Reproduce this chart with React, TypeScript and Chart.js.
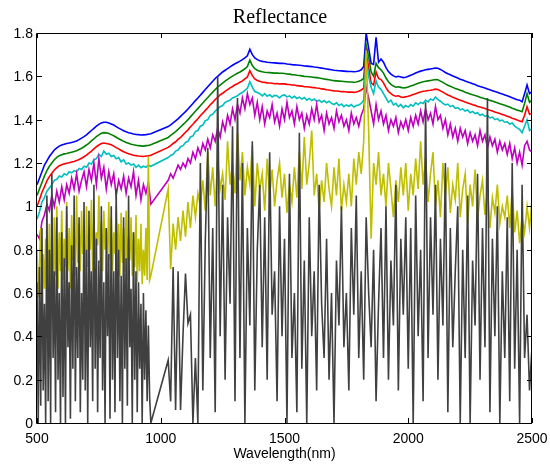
import { useEffect, useRef } from "react";
import { Chart, registerables } from "chart.js";

Chart.register(...registerables);

const TITLE = "Reflectance";
const X_LABEL = "Wavelength(nm)";
const X_TICKS = [500, 1000, 1500, 2000, 2500];
const Y_TICKS = [0, 0.2, 0.4, 0.6, 0.8, 1, 1.2, 1.4, 1.6, 1.8];
const X_MIN = 500;
const X_MAX = 2500;
const Y_MIN = 0;
const Y_MAX = 1.8;

// 10 nm sampling, with the 970-1020 nm band missing
const WAVELENGTH = [
  500, 510, 520, 530, 540, 550, 560, 570, 580, 590,
  600, 610, 620, 630, 640, 650, 660, 670, 680, 690,
  700, 710, 720, 730, 740, 750, 760, 770, 780, 790,
  800, 810, 820, 830, 840, 850, 860, 870, 880, 890,
  900, 910, 920, 930, 940, 950, 960,
  1030, 1040, 1050, 1060, 1070, 1080, 1090,
  1100, 1110, 1120, 1130, 1140, 1150, 1160, 1170, 1180, 1190,
  1200, 1210, 1220, 1230, 1240, 1250, 1260, 1270, 1280, 1290,
  1300, 1310, 1320, 1330, 1340, 1350, 1360, 1370, 1380, 1390,
  1400, 1410, 1420, 1430, 1440, 1450, 1460, 1470, 1480, 1490,
  1500, 1510, 1520, 1530, 1540, 1550, 1560, 1570, 1580, 1590,
  1600, 1610, 1620, 1630, 1640, 1650, 1660, 1670, 1680, 1690,
  1700, 1710, 1720, 1730, 1740, 1750, 1760, 1770, 1780, 1790,
  1800, 1810, 1820, 1830, 1840, 1850, 1860, 1870, 1880, 1890,
  1900, 1910, 1920, 1930, 1940, 1950, 1960, 1970, 1980, 1990,
  2000, 2010, 2020, 2030, 2040, 2050, 2060, 2070, 2080, 2090,
  2100, 2110, 2120, 2130, 2140, 2150, 2160, 2170, 2180, 2190,
  2200, 2210, 2220, 2230, 2240, 2250, 2260, 2270, 2280, 2290,
  2300, 2310, 2320, 2330, 2340, 2350, 2360, 2370, 2380, 2390,
  2400, 2410, 2420, 2430, 2440, 2450, 2460, 2470, 2480, 2490,
  2500,
];

// 5 nm sampling of the visible part (for the two noisiest spectra)
const WAVELENGTH_FINE_VIS = [
  500, 505, 510, 515, 520, 525, 530, 535, 540, 545,
  550, 555, 560, 565, 570, 575, 580, 585, 590, 595,
  600, 605, 610, 615, 620, 625, 630, 635, 640, 645,
  650, 655, 660, 665, 670, 675, 680, 685, 690, 695,
  700, 705, 710, 715, 720, 725, 730, 735, 740, 745,
  750, 755, 760, 765, 770, 775, 780, 785, 790, 795,
  800, 805, 810, 815, 820, 825, 830, 835, 840, 845,
  850, 855, 860, 865, 870, 875, 880, 885, 890, 895,
  900, 905, 910, 915, 920, 925, 930, 935, 940, 945,
  950, 955, 960,
];

const WAVELENGTH_NIR = [
  1030, 1040, 1050, 1060, 1070, 1080, 1090,
  1100, 1110, 1120, 1130, 1140, 1150, 1160, 1170, 1180, 1190,
  1200, 1210, 1220, 1230, 1240, 1250, 1260, 1270, 1280, 1290,
  1300, 1310, 1320, 1330, 1340, 1350, 1360, 1370, 1380, 1390,
  1400, 1410, 1420, 1430, 1440, 1450, 1460, 1470, 1480, 1490,
  1500, 1510, 1520, 1530, 1540, 1550, 1560, 1570, 1580, 1590,
  1600, 1610, 1620, 1630, 1640, 1650, 1660, 1670, 1680, 1690,
  1700, 1710, 1720, 1730, 1740, 1750, 1760, 1770, 1780, 1790,
  1800, 1810, 1820, 1830, 1840, 1850, 1860, 1870, 1880, 1890,
  1900, 1910, 1920, 1930, 1940, 1950, 1960, 1970, 1980, 1990,
  2000, 2010, 2020, 2030, 2040, 2050, 2060, 2070, 2080, 2090,
  2100, 2110, 2120, 2130, 2140, 2150, 2160, 2170, 2180, 2190,
  2200, 2210, 2220, 2230, 2240, 2250, 2260, 2270, 2280, 2290,
  2300, 2310, 2320, 2330, 2340, 2350, 2360, 2370, 2380, 2390,
  2400, 2410, 2420, 2430, 2440, 2450, 2460, 2470, 2480, 2490,
  2500,
];

const BLUE = [
  1.10, 1.13, 1.16, 1.19, 1.21, 1.23, 1.245, 1.26, 1.27, 1.278,
  1.283, 1.287, 1.29, 1.292, 1.295, 1.298, 1.302, 1.308, 1.315, 1.322,
  1.33, 1.34, 1.35, 1.36, 1.37, 1.378, 1.385, 1.388, 1.388, 1.385,
  1.38, 1.375, 1.368, 1.361, 1.355, 1.349, 1.344, 1.34, 1.337, 1.334,
  1.332, 1.331, 1.329, 1.33, 1.331, 1.333, 1.335,
  1.368, 1.376, 1.385, 1.394, 1.404, 1.415, 1.426,
  1.437, 1.449, 1.462, 1.475, 1.488, 1.50, 1.513, 1.526, 1.539, 1.552,
  1.565, 1.577, 1.59, 1.60, 1.61, 1.62, 1.628, 1.636, 1.644, 1.651,
  1.658, 1.664, 1.67, 1.677, 1.685, 1.695, 1.725, 1.70, 1.685, 1.677,
  1.672, 1.669, 1.667, 1.665, 1.664, 1.663, 1.662, 1.661, 1.66, 1.66,
  1.659, 1.657, 1.656, 1.654, 1.653, 1.652, 1.651, 1.65, 1.648, 1.647,
  1.646, 1.645, 1.643, 1.642, 1.64, 1.638, 1.636, 1.634, 1.632, 1.63,
  1.628, 1.627, 1.626, 1.625, 1.624, 1.623, 1.622, 1.622, 1.621, 1.622,
  1.625, 1.63, 1.645, 1.80, 1.73, 1.66, 1.655, 1.78, 1.665, 1.68,
  1.665, 1.64, 1.622, 1.61, 1.602, 1.597, 1.60, 1.597, 1.594, 1.596,
  1.60, 1.605, 1.61, 1.615, 1.62, 1.624, 1.627, 1.63, 1.632, 1.634,
  1.636, 1.638, 1.637, 1.632, 1.625, 1.618, 1.612, 1.607, 1.602, 1.597,
  1.592, 1.587, 1.583, 1.578, 1.574, 1.57, 1.566, 1.562, 1.557, 1.553,
  1.55, 1.546, 1.542, 1.538, 1.534, 1.53, 1.526, 1.522, 1.518, 1.514,
  1.51, 1.506, 1.501, 1.497, 1.492, 1.49, 1.483, 1.52, 1.56, 1.52,
  1.53,
];

const GREEN = [
  1.05, 1.08, 1.11, 1.14, 1.165, 1.185, 1.20, 1.215, 1.226, 1.234,
  1.238, 1.242, 1.244, 1.247, 1.25, 1.253, 1.257, 1.262, 1.268, 1.275,
  1.283, 1.292, 1.302, 1.312, 1.322, 1.33, 1.337, 1.34, 1.339, 1.336,
  1.331, 1.326, 1.319, 1.312, 1.306, 1.30, 1.295, 1.291, 1.287, 1.284,
  1.282, 1.28, 1.279, 1.278, 1.28, 1.281, 1.284,
  1.318, 1.327, 1.336, 1.345, 1.355, 1.366, 1.377,
  1.388, 1.40, 1.413, 1.426, 1.439, 1.451, 1.464, 1.477, 1.49, 1.502,
  1.515, 1.527, 1.539, 1.55, 1.56, 1.569, 1.578, 1.586, 1.594, 1.601,
  1.608, 1.614, 1.62, 1.627, 1.635, 1.645, 1.675, 1.65, 1.635, 1.628,
  1.624, 1.621, 1.619, 1.618, 1.617, 1.616, 1.615, 1.615, 1.614, 1.614,
  1.613, 1.611, 1.61, 1.608, 1.607, 1.605, 1.604, 1.602, 1.60, 1.599,
  1.598, 1.597, 1.595, 1.594, 1.592, 1.59, 1.588, 1.586, 1.584, 1.582,
  1.58, 1.579, 1.578, 1.577, 1.576, 1.575, 1.574, 1.574, 1.573, 1.574,
  1.577, 1.582, 1.59, 1.745, 1.69, 1.62, 1.60, 1.66, 1.64, 1.63,
  1.615, 1.592, 1.575, 1.563, 1.555, 1.55, 1.552, 1.549, 1.546, 1.548,
  1.551, 1.555, 1.559, 1.563, 1.568, 1.572, 1.575, 1.577, 1.579, 1.581,
  1.583, 1.585, 1.584, 1.578, 1.572, 1.565, 1.559, 1.554, 1.549, 1.544,
  1.54, 1.536, 1.532, 1.527, 1.523, 1.519, 1.515, 1.512, 1.508, 1.504,
  1.50, 1.497, 1.493, 1.489, 1.486, 1.482, 1.478, 1.474, 1.47, 1.466,
  1.462, 1.458, 1.453, 1.449, 1.444, 1.441, 1.437, 1.475, 1.52, 1.48,
  1.49,
];

const RED = [
  1.00, 1.03, 1.065, 1.09, 1.118, 1.137, 1.153, 1.168, 1.179, 1.187,
  1.192, 1.196, 1.199, 1.201, 1.205, 1.207, 1.211, 1.216, 1.222, 1.229,
  1.236, 1.246, 1.255, 1.265, 1.275, 1.283, 1.29, 1.292, 1.29, 1.288,
  1.284, 1.278, 1.271, 1.265, 1.258, 1.252, 1.247, 1.243, 1.239, 1.236,
  1.234, 1.232, 1.231, 1.23, 1.232, 1.233, 1.236,
  1.272, 1.28, 1.29, 1.298, 1.309, 1.318, 1.33,
  1.342, 1.353, 1.367, 1.379, 1.392, 1.404, 1.418, 1.43, 1.443, 1.455,
  1.469, 1.48, 1.493, 1.503, 1.514, 1.522, 1.531, 1.539, 1.547, 1.553,
  1.561, 1.566, 1.573, 1.579, 1.588, 1.597, 1.626, 1.603, 1.588, 1.581,
  1.577, 1.573, 1.572, 1.57, 1.569, 1.568, 1.566, 1.567, 1.565, 1.566,
  1.565, 1.563, 1.562, 1.56, 1.56, 1.557, 1.556, 1.555, 1.552, 1.552,
  1.551, 1.549, 1.548, 1.546, 1.545, 1.542, 1.541, 1.538, 1.537, 1.535,
  1.533, 1.532, 1.531, 1.529, 1.53, 1.528, 1.527, 1.528, 1.526, 1.528,
  1.531, 1.537, 1.545, 1.71, 1.64, 1.57, 1.56, 1.62, 1.59, 1.585,
  1.57, 1.548, 1.53, 1.52, 1.512, 1.508, 1.51, 1.505, 1.503, 1.506,
  1.508, 1.512, 1.516, 1.52, 1.524, 1.528, 1.531, 1.532, 1.535, 1.536,
  1.538, 1.541, 1.539, 1.533, 1.527, 1.52, 1.514, 1.509, 1.503, 1.499,
  1.494, 1.49, 1.486, 1.481, 1.477, 1.473, 1.469, 1.466, 1.461, 1.458,
  1.455, 1.451, 1.447, 1.443, 1.44, 1.435, 1.432, 1.428, 1.424, 1.42,
  1.416, 1.412, 1.407, 1.403, 1.398, 1.394, 1.39, 1.42, 1.46, 1.425,
  1.43,
];

const CYAN = [
  0.94, 0.975, 1.02, 1.04, 1.07, 1.085, 1.10, 1.12, 1.125, 1.14,
  1.135, 1.15, 1.145, 1.16, 1.155, 1.165, 1.16, 1.175, 1.17, 1.185,
  1.18, 1.20, 1.195, 1.215, 1.22, 1.24, 1.23, 1.255, 1.24, 1.245,
  1.23, 1.235, 1.22, 1.225, 1.205, 1.215, 1.195, 1.20, 1.19, 1.195,
  1.18, 1.19, 1.178, 1.185, 1.18, 1.19, 1.185,
  1.225, 1.235, 1.24, 1.255, 1.26, 1.275, 1.28,
  1.295, 1.30, 1.32, 1.325, 1.345, 1.35, 1.37, 1.375, 1.395, 1.40,
  1.42, 1.425, 1.44, 1.45, 1.46, 1.465, 1.48, 1.485, 1.49, 1.50,
  1.505, 1.51, 1.52, 1.525, 1.535, 1.545, 1.575, 1.55, 1.53, 1.525,
  1.52, 1.51, 1.52, 1.508, 1.515, 1.505, 1.512, 1.51, 1.50, 1.512,
  1.514, 1.505, 1.51, 1.50, 1.508, 1.498, 1.504, 1.495, 1.502, 1.49,
  1.498, 1.488, 1.495, 1.485, 1.49, 1.48, 1.488, 1.478, 1.485, 1.475,
  1.47, 1.478, 1.465, 1.472, 1.46, 1.468, 1.462, 1.47, 1.458, 1.465,
  1.468, 1.475, 1.49, 1.68, 1.60, 1.55, 1.52, 1.58, 1.55, 1.54,
  1.52, 1.50, 1.48, 1.49, 1.468, 1.475, 1.46, 1.47, 1.455, 1.465,
  1.458, 1.47, 1.462, 1.478, 1.47, 1.48, 1.475, 1.49, 1.482, 1.495,
  1.49, 1.505, 1.492, 1.485, 1.475, 1.468, 1.472, 1.46, 1.465, 1.452,
  1.455, 1.445, 1.45, 1.44, 1.445, 1.432, 1.438, 1.428, 1.432, 1.42,
  1.425, 1.415, 1.42, 1.408, 1.412, 1.40, 1.405, 1.395, 1.398, 1.388,
  1.39, 1.38, 1.385, 1.37, 1.362, 1.355, 1.34, 1.37, 1.40, 1.35,
  1.36,
];

const MAGENTA = [
  0.87, 0.85, 0.93, 0.96, 1.01, 0.98, 1.05, 1.00, 1.07, 1.02,
  1.09, 1.03, 1.10, 1.06, 1.13, 1.08, 1.15, 1.07, 1.12, 1.16,
  1.09, 1.17, 1.12, 1.20, 1.10, 1.22, 1.13, 1.18, 1.08, 1.16,
  1.10, 1.15, 1.05, 1.12, 1.08, 1.14, 1.06, 1.13, 1.09, 1.16,
  1.05, 1.12, 1.03, 1.10, 1.06, 1.11, 1.01,
  1.12, 1.15, 1.13, 1.16, 1.19, 1.17, 1.20,
  1.18, 1.22, 1.20, 1.25, 1.22, 1.27, 1.24, 1.29, 1.26, 1.31,
  1.27, 1.33, 1.30, 1.36, 1.32, 1.39, 1.35, 1.42, 1.38, 1.45,
  1.40, 1.47, 1.43, 1.50, 1.45, 1.52, 1.47, 1.50, 1.42, 1.48,
  1.40, 1.46, 1.38, 1.44, 1.41, 1.47, 1.39, 1.43, 1.37, 1.45,
  1.40, 1.48, 1.41, 1.44, 1.38, 1.46, 1.40, 1.43, 1.36, 1.42,
  1.38, 1.45, 1.40, 1.47, 1.39, 1.42, 1.35, 1.43, 1.38, 1.41,
  1.36, 1.44, 1.39, 1.42, 1.37, 1.40, 1.35, 1.43, 1.38, 1.41,
  1.37, 1.42, 1.45, 1.55, 1.50, 1.44, 1.38, 1.47, 1.40, 1.44,
  1.38, 1.42, 1.35, 1.40, 1.37, 1.41, 1.34, 1.39, 1.36, 1.40,
  1.35, 1.41, 1.37, 1.42, 1.38, 1.44, 1.39, 1.45, 1.40, 1.43,
  1.38, 1.46, 1.40, 1.42, 1.36, 1.40, 1.33, 1.38, 1.32, 1.36,
  1.30, 1.36, 1.32, 1.35, 1.29, 1.34, 1.30, 1.33, 1.28, 1.35,
  1.30, 1.33, 1.27, 1.32, 1.28, 1.31, 1.25, 1.30, 1.26, 1.29,
  1.24, 1.29, 1.22, 1.27, 1.20, 1.25, 1.19, 1.28, 1.30, 1.26,
  1.25,
];

const YELLOW_FINE_VIS = [
  0.80, 0.58, 0.72, 0.90, 0.55, 0.78, 0.62, 0.85, 0.50, 0.70,
  0.92, 0.60, 0.82, 0.55, 0.95, 0.68, 1.00, 0.62, 0.88, 0.70,
  0.98, 0.66, 0.85, 0.72, 1.02, 0.70, 0.90, 0.62, 0.96, 0.75,
  0.88, 0.68, 1.05, 0.74, 0.92, 0.70, 0.98, 0.78, 0.86, 0.66,
  1.00, 0.72, 0.90, 0.80, 1.03, 0.70, 0.95, 0.76, 0.88, 0.82,
  1.05, 0.74, 0.93, 0.70, 0.98, 0.80, 0.90, 0.72, 1.02, 0.75,
  0.95, 0.70, 0.88, 0.78, 1.00, 0.72, 0.92, 0.68, 0.97, 0.74,
  0.90, 0.70, 0.98, 0.66, 0.86, 0.75, 0.95, 0.68, 0.88, 0.72,
  0.96, 0.65, 0.85, 0.70, 0.92, 0.64, 0.80, 0.68, 0.90, 0.66,
  1.23, 0.66, 0.68,
];

const YELLOW_NIR = [
  1.08, 0.71, 0.92, 0.80, 0.95, 0.84, 0.98,
  0.86, 1.02, 0.90, 1.05, 0.95, 1.06, 1.00, 1.12, 0.98, 1.25,
  1.05, 1.18, 1.00, 1.22, 1.08, 1.15, 1.03, 1.30, 1.10, 1.20,
  1.06, 1.34, 1.12, 1.25, 1.05, 1.18, 1.10, 1.28, 1.00, 1.20,
  1.08, 1.15, 0.98, 1.22, 1.05, 1.17, 1.00, 1.12, 1.20, 1.04,
  1.15, 0.97, 1.10, 1.02, 1.18, 1.04, 1.25, 1.08, 1.32, 1.10,
  1.20, 1.35, 1.05, 1.15, 0.98, 1.12, 1.02, 1.20, 1.08, 1.00,
  1.18, 1.05, 1.22, 0.98, 1.10, 1.02, 1.15, 1.00, 1.22, 1.10,
  1.25, 1.15, 1.30, 1.72, 1.35, 0.85, 1.20, 1.10, 1.25, 1.05,
  1.15, 1.00, 1.20, 1.08, 0.95, 1.12, 1.02, 1.18, 1.05, 1.20,
  0.98, 1.15, 1.05, 1.22, 1.08, 1.30, 1.10, 1.22, 1.02, 1.15,
  1.25, 1.00, 1.12, 0.95, 1.20, 1.05, 1.18, 0.97, 1.10, 1.03,
  1.20, 0.95, 1.08, 1.15, 0.92, 1.10, 1.00, 1.17, 0.94, 1.05,
  1.12, 0.96, 1.08, 0.90, 1.04, 0.97, 1.10, 0.92, 1.00, 0.95,
  1.05, 0.90, 1.08, 0.88, 0.98, 0.83, 0.95, 0.88, 1.00, 0.90,
  1.03,
];

const GRAY_FINE_VIS = [
  0.65, 0.00, 0.72, 0.08, 0.90, 0.15, 0.55, 0.00, 1.05, 0.10,
  0.80, 0.00, 1.15, 0.30, 0.70, 0.05, 0.95, 0.20, 0.60, 0.00,
  0.88, 0.12, 0.76, 0.00, 1.00, 0.35, 0.65, 0.02, 0.82, 0.25,
  1.05, 0.10, 0.72, 0.30, 0.95, 0.05, 0.60, 0.20, 1.02, 0.15,
  0.80, 0.00, 0.98, 0.35, 0.70, 0.10, 1.10, 0.25, 0.85, 0.05,
  0.75, 0.30, 1.00, 0.15, 0.65, 0.00, 0.90, 0.40, 0.78, 0.02,
  1.00, 0.20, 0.70, 0.05, 1.08, 0.30, 0.80, 0.10, 0.68, 0.00,
  0.95, 0.25, 0.76, 0.08, 1.05, 0.35, 0.62, 0.00, 0.88, 0.20,
  0.70, 0.05, 0.65, 0.25, 0.55, 0.00, 0.60, 0.20, 0.52, 0.10,
  0.45, 0.12, 0.00,
];

const GRAY_NIR = [
  0.29, 0.10, 0.72, 0.06, 0.70, 0.06, 0.41,
  0.69, 0.46, 0.50, 0.00, 0.30, 0.00, 1.20, 0.15, 0.84, 1.27,
  0.30, 0.90, 0.05, 1.60, 0.40, 1.10, 0.20, 0.95, 0.55, 1.37,
  0.10, 1.50, 0.30, 1.20, 0.00, 0.90, 0.45, 1.30, 0.15, 0.80,
  1.10, 0.35, 0.95, 0.20, 1.25, 0.50, 0.70, 0.10, 1.00, 0.40,
  0.85, 0.00, 1.15, 0.30, 0.60, 0.05, 1.34, 0.25, 0.75, 0.00,
  0.95, 0.40, 0.70, 0.15, 1.10, 0.55, 0.30, 0.85, 0.20, 0.60,
  0.00, 0.75, 0.45, 1.00, 0.35, 0.60, 0.15, 0.90, 0.50, 1.05,
  0.30, 0.70, 0.20, 0.95, 0.60, 0.35, 0.80, 0.10, 0.55, 0.90,
  0.30, 1.00, 0.20, 0.75, 0.45, 1.10, 0.15, 0.85, 0.50, 0.95,
  0.25, 0.90, 0.00, 1.05, 0.40, 0.80, 0.10, 1.48, 0.30, 0.95,
  0.50, 1.10, 0.20, 0.85, 0.45, 1.20, 0.05, 0.90, 0.35, 0.70,
  1.00, 0.00, 0.80, 0.30, 1.05, 0.00, 0.75, 0.45, 1.15, 0.20,
  0.90, 0.35, 1.50, 0.05, 0.85, 0.40, 1.00, 0.00, 0.70, 0.30,
  0.95, 0.10, 1.20, 0.25, 0.80, 0.00, 1.10, 0.30, 0.50, 0.15,
  0.35,
];

// first entry is drawn on top (MATLAB plots the black curve last)
const SERIES = [
  { name: "k", wl: [...WAVELENGTH_FINE_VIS, ...WAVELENGTH_NIR], values: [...GRAY_FINE_VIS, ...GRAY_NIR], color: "rgb(64,64,64)" },
  { name: "y", wl: [...WAVELENGTH_FINE_VIS, ...WAVELENGTH_NIR], values: [...YELLOW_FINE_VIS, ...YELLOW_NIR], color: "rgb(191,191,0)" },
  { name: "m", wl: WAVELENGTH, values: MAGENTA, color: "rgb(191,0,191)" },
  { name: "c", wl: WAVELENGTH, values: CYAN, color: "rgb(0,191,191)" },
  { name: "r", wl: WAVELENGTH, values: RED, color: "rgb(255,0,0)" },
  { name: "g", wl: WAVELENGTH, values: GREEN, color: "rgb(0,128,0)" },
  { name: "b", wl: WAVELENGTH, values: BLUE, color: "rgb(0,0,255)" },
];

const SANS = "'Liberation Sans', Arial, sans-serif";
const SERIF = "'Liberation Serif', 'Times New Roman', serif";

export default function App() {
  const ref = useRef<HTMLCanvasElement | null>(null);

  useEffect(() => {
    if (!ref.current) return;

    const frame = {
      id: "matlabFrame",
      afterDatasetsDraw(chart: any) {
        const { ctx, chartArea: a, scales } = chart;
        const xs = scales.x;
        const ys = scales.y;
        ctx.save();
        ctx.strokeStyle = "#000";
        ctx.lineWidth = 1;
        ctx.beginPath();
        ctx.rect(a.left - 0.5, a.top + 0.5, a.right - a.left, a.bottom - a.top);
        ctx.stroke();
        const tl = 5;
        ctx.beginPath();
        for (const v of X_TICKS) {
          const px = Math.round(xs.getPixelForValue(v)) + 0.5;
          ctx.moveTo(px, a.bottom);
          ctx.lineTo(px, a.bottom - tl);
          ctx.moveTo(px, a.top);
          ctx.lineTo(px, a.top + tl);
        }
        for (const v of Y_TICKS) {
          const py = Math.round(ys.getPixelForValue(v)) + 0.5;
          ctx.moveTo(a.left, py);
          ctx.lineTo(a.left + tl, py);
          ctx.moveTo(a.right, py);
          ctx.lineTo(a.right - tl, py);
        }
        ctx.stroke();

        ctx.fillStyle = "#000";
        ctx.font = `14px ${SANS}`;
        ctx.textAlign = "center";
        ctx.textBaseline = "alphabetic";
        for (const v of X_TICKS) {
          ctx.fillText(String(v), xs.getPixelForValue(v), a.bottom + 20);
        }
        ctx.textAlign = "right";
        ctx.textBaseline = "middle";
        for (const v of Y_TICKS) {
          ctx.fillText(String(v), a.left - 4, ys.getPixelForValue(v) + 1);
        }

        ctx.textAlign = "center";
        ctx.textBaseline = "alphabetic";
        ctx.font = `20px ${SERIF}`;
        ctx.fillText(TITLE, 280, 23);
        ctx.font = `14px ${SANS}`;
        ctx.fillText(X_LABEL, (a.left + a.right) / 2, 458);
        ctx.restore();
      },
    };

    const chart = new Chart(ref.current, {
      type: "line",
      data: {
        datasets: SERIES.map((s) => ({
          label: s.name,
          data: s.wl.map((x, i) => ({ x, y: s.values[i] })),
          borderColor: s.color,
          backgroundColor: s.color,
          borderWidth: 1.6,
          pointRadius: 0,
          fill: false,
          tension: 0,
        })),
      },
      options: {
        animation: false,
        responsive: false,
        devicePixelRatio: 1,
        layout: { padding: { top: 33, right: 18, left: 37, bottom: 42 } },
        plugins: {
          legend: { display: false },
          tooltip: { enabled: false },
          title: { display: false },
        },
        scales: {
          x: { type: "linear", min: X_MIN, max: X_MAX, display: false },
          y: { type: "linear", min: Y_MIN, max: Y_MAX, display: false },
        },
      },
      plugins: [frame],
    });

    return () => chart.destroy();
  }, []);

  return (
    <div style={{ position: "fixed", left: 0, top: 0, width: 550, height: 465, background: "#fff" }}>
      <canvas ref={ref} width={550} height={465} style={{ display: "block" }} />
    </div>
  );
}
